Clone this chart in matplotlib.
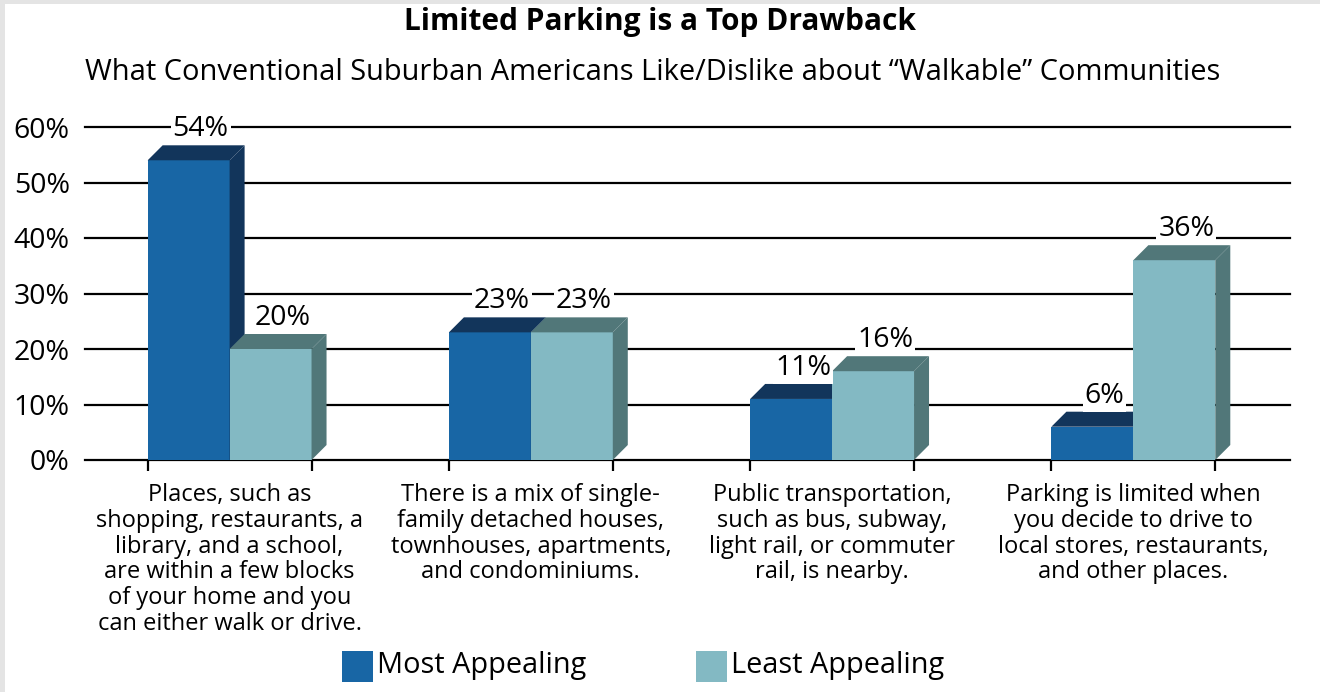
import matplotlib
matplotlib.use("Agg")
import matplotlib.pyplot as plt
from matplotlib.patches import Polygon, Rectangle

plt.rcParams['font.family'] = ['Open Sans', 'DejaVu Sans']

# data
categories = [
    "Places, such as\nshopping, restaurants, a\nlibrary, and a school,\nare within a few blocks\nof your home and you\ncan either walk or drive.",
    "There is a mix of single-\nfamily detached houses,\ntownhouses, apartments,\nand condominiums.",
    "Public transportation,\nsuch as bus, subway,\nlight rail, or commuter\nrail, is nearby.",
    "Parking is limited when\nyou decide to drive to\nlocal stores, restaurants,\nand other places.",
]
series_names = ["Most Appealing", "Least Appealing"]
most_appealing = [54, 23, 11, 6]
least_appealing = [20, 23, 16, 36]
yticks = [0, 10, 20, 30, 40, 50, 60]

front_colors = ["#1866A5", "#83B9C3"]
shade_colors = ["#12355B", "#517779"]

W, H = 1320, 692
fig = plt.figure(figsize=(W / 100, H / 100), dpi=100)
fig.patch.set_facecolor("#E4E4E4")
fig.add_artist(Rectangle((5 / W, 0), 1, 1 - 4 / H, transform=fig.transFigure,
                         facecolor="white", edgecolor="none", zorder=0))

ax = fig.add_axes([85 / W, (H - 460) / H, 1205 / W, 333 / H])
ax.set_facecolor("none")
ax.set_xlim(0, 4)
ax.set_ylim(0, 60)

bar_w = 0.272
center_off = 0.48
dx = 15 / 301.25     # depth in x (data units)
dy = 15 / (333 / 60)  # depth in y (data units)

for j, vals in enumerate([most_appealing, least_appealing]):
    for i, v in enumerate(vals):
        x0 = i + center_off - bar_w + j * bar_w
        x1 = x0 + bar_w
        z = 3 + j * 3
        ax.add_patch(Rectangle((x0, 0), bar_w, v, facecolor=front_colors[j],
                               edgecolor="none", zorder=z))
        ax.add_patch(Polygon([(x0, v), (x0 + dx, v + dy), (x1 + dx, v + dy), (x1, v)],
                             closed=True, facecolor=shade_colors[j], edgecolor="none",
                             zorder=z + 1, clip_on=False))
        ax.add_patch(Polygon([(x1, 0), (x1, v), (x1 + dx, v + dy), (x1 + dx, dy)],
                             closed=True, facecolor=shade_colors[j], edgecolor="none",
                             zorder=z + 1, clip_on=False))
        ax.text(x0 + bar_w / 2 + 0.04, v + 4.3, f"{v}%", ha="center", va="baseline",
                fontsize=20.5, zorder=20, clip_on=False,
                bbox=dict(facecolor="white", edgecolor="none", pad=1.5))

# gridlines
for t in yticks:
    ax.axhline(t, color="black", lw=1.6, zorder=1, clip_on=False)

for s in ax.spines.values():
    s.set_visible(False)

ax.set_yticks(yticks)
ax.set_yticklabels([f"{t}%" for t in yticks])
ax.tick_params(axis="y", length=0, pad=11, labelsize=20.5)

edges = []
for i in range(len(categories)):
    edges += [i + center_off - bar_w, i + center_off + bar_w]
ax.set_xticks(edges)
ax.set_xticklabels([])
ax.tick_params(axis="x", which="major", length=8, width=1.6, color="black")
ax.set_xticks([i + center_off for i in range(len(categories))], minor=True)
ax.set_xticklabels(categories, minor=True, fontsize=17, linespacing=1.1)
ax.tick_params(axis="x", which="minor", length=0, pad=16.5)

fig.text(660 / W, 1 - 22 / H, "Limited Parking is a Top Drawback", ha="center",
         va="center", fontsize=21.5, fontweight="bold")
fig.text(653 / W, 1 - 72 / H,
         "What Conventional Suburban Americans Like/Dislike about \u201cWalkable\u201d Communities",
         ha="center", va="center", fontsize=20.9)

# legend
leg_x = [342, 696]
for j, name in enumerate(series_names):
    fig.add_artist(Rectangle((leg_x[j] / W, (H - 682) / H), 31 / W, 31 / H,
                             transform=fig.transFigure, facecolor=front_colors[j],
                             edgecolor="none"))
    fig.text((leg_x[j] + 35) / W, (H - 666) / H, name, ha="left", va="center",
             fontsize=20.8)

fig.savefig("out.png", dpi=100)
